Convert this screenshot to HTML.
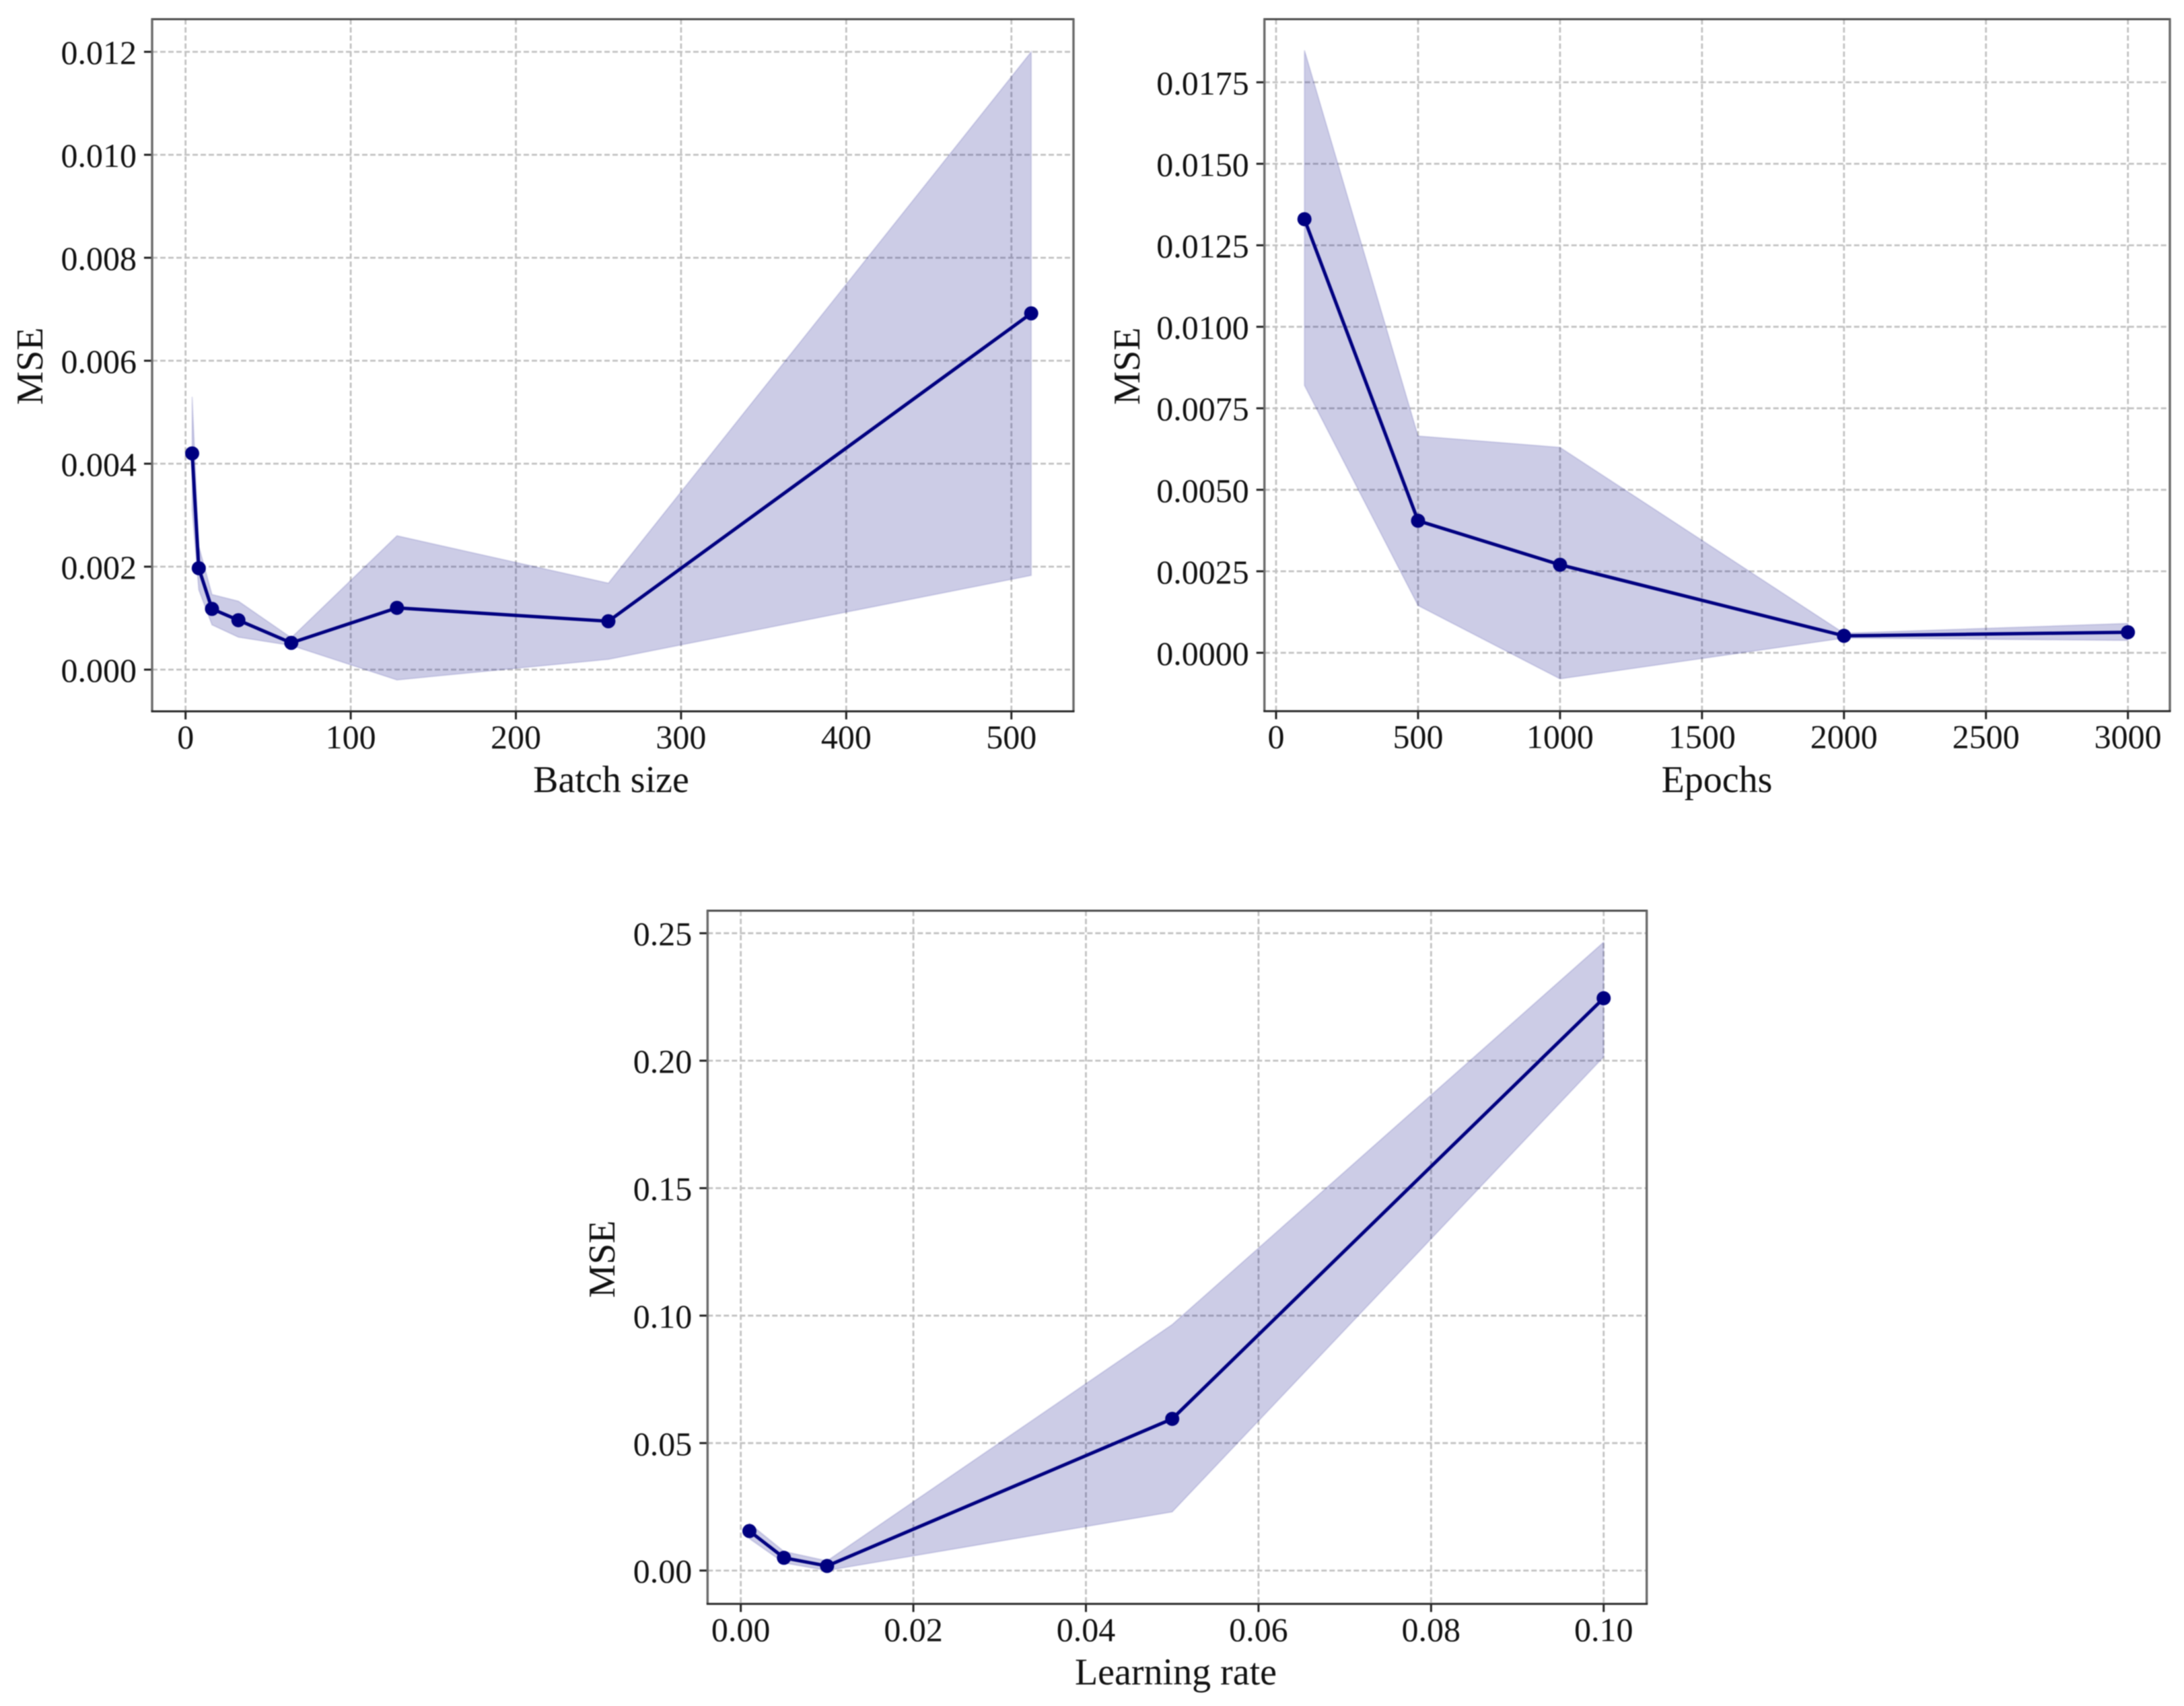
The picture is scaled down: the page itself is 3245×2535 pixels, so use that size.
<!DOCTYPE html>
<html lang="en">
<head>
<meta charset="utf-8">
<title>MSE versus batch size, epochs and learning rate</title>
<style>
  html, body { margin: 0; padding: 0; background: #fff; width: 3245px; height: 2535px; overflow: hidden; }
  svg { display: block; filter: blur(0.8px); }
  text { font-family: "Liberation Serif", "Times New Roman", serif; fill: #111; }
</style>
</head>
<body>
<svg id="figure" xmlns="http://www.w3.org/2000/svg" width="3245" height="2535" viewBox="0 0 3245 2535">
  <rect x="0" y="0" width="3245" height="2535" fill="#ffffff"/>
</svg>
<script>
// Batch size panel data
const batchSizes = [4, 8, 16, 32, 64, 128, 256, 512];
const batchMean  = [0.0042, 0.00197, 0.00118, 0.00096, 0.00052, 0.0012, 0.00094, 0.00692];
const batchUpper = [0.0053, 0.0024, 0.00146, 0.00133, 0.00062, 0.0026, 0.00168, 0.0120];
const batchLower = [0.0031, 0.00155, 0.00087, 0.00063, 0.00047, -0.0002, 0.0002, 0.00183];
const batchXTicks = ["0", "100", "200", "300", "400", "500"];
const batchYTicks = ["0.000", "0.002", "0.004", "0.006", "0.008", "0.010", "0.012"];

// Epochs panel data
const epochCounts = [100, 500, 1000, 2000, 3000];
const epochMean  = [0.0133, 0.00405, 0.0027, 0.00052, 0.00063];
const epochUpper = [0.01848, 0.00665, 0.0063, 0.0006, 0.0009];
const epochLower = [0.0082, 0.00145, -0.0008, 0.00045, 0.00038];
const epochXTicks = ["0", "500", "1000", "1500", "2000", "2500", "3000"];
const epochYTicks = ["0.0000", "0.0025", "0.0050", "0.0075", "0.0100", "0.0125", "0.0150", "0.0175"];

// Learning rate panel data
const learningRates = [0.001, 0.005, 0.01, 0.05, 0.1];
const rateMean  = [0.0155, 0.005, 0.0018, 0.0595, 0.2245];
const rateUpper = [0.0185, 0.0075, 0.0038, 0.0965, 0.2465];
const rateLower = [0.0125, 0.003, 0.0, 0.023, 0.2015];
const rateXTicks = ["0.00", "0.02", "0.04", "0.06", "0.08", "0.10"];
const rateYTicks = ["0.00", "0.05", "0.10", "0.15", "0.20", "0.25"];

const SVG_NS = "http://www.w3.org/2000/svg";
const figure = document.getElementById("figure");

function create(parent, tag, attrs) {
  const node = document.createElementNS(SVG_NS, tag);
  for (const key in attrs) node.setAttribute(key, attrs[key]);
  parent.appendChild(node);
  return node;
}

function drawPanel(p) {
  const xScale = v => p.left + (v - p.xMin) / (p.xMax - p.xMin) * (p.right - p.left);
  const yScale = v => p.bottom - (v - p.yMin) / (p.yMax - p.yMin) * (p.bottom - p.top);

  const panel = create(figure, "g", {});
  
  

  // grid and ticks
  p.xTicks.forEach(label => {
    const x = xScale(parseFloat(label));
    const grid = create(panel, "line", { x1: x, x2: x, y1: p.top, y2: p.bottom, stroke: "#c2c2c2", "stroke-width": 2.8, "stroke-dasharray": "8 4" });
    
    
    const tick = create(panel, "line", { x1: x, x2: x, y1: p.bottom, y2: p.bottom + 12, stroke: "#222", "stroke-width": 3 });
    
    
    const text = create(panel, "text", { x: x, y: p.bottom + 55, "text-anchor": "middle", "font-size": p.tickFont });
    
    
    text.textContent = label;
  });
  p.yTicks.forEach(label => {
    const y = yScale(parseFloat(label));
    const grid = create(panel, "line", { x1: p.left, x2: p.right, y1: y, y2: y, stroke: "#c2c2c2", "stroke-width": 2.8, "stroke-dasharray": "8 4" });
    
    
    const tick = create(panel, "line", { x1: p.left - 12, x2: p.left, y1: y, y2: y, stroke: "#222", "stroke-width": 3 });
    
    
    const text = create(panel, "text", { x: p.left - 23, y: y + 18, "text-anchor": "end", "font-size": p.tickFont });
    
    
    text.textContent = label;
  });

  // uncertainty band
  const upperPts = p.xs.map((x, i) => xScale(x) + "," + yScale(p.upper[i]));
  const lowerPts = p.xs.map((x, i) => xScale(x) + "," + yScale(p.lower[i])).reverse();
  const band = create(panel, "polygon", { points: upperPts.concat(lowerPts).join(" "), fill: "#000080", "fill-opacity": 0.2, stroke: "#000080", "stroke-opacity": 0.12, "stroke-width": 2 });
  
  

  // mean line
  const line = create(panel, "polyline", { points: p.xs.map((x, i) => xScale(x) + "," + yScale(p.mean[i])).join(" "), fill: "none", stroke: "#000080", "stroke-width": 5 });
  
  

  // markers
  p.xs.forEach((x, i) => {
    const dot = create(panel, "circle", { cx: xScale(x), cy: yScale(p.mean[i]), r: 10.5, fill: "#000080" });
    
    
  });

  // spines
  const topSpine = create(panel, "line", { x1: p.left - 1.5, x2: p.right + 1.5, y1: p.top, y2: p.top, stroke: "#4a4a4a", "stroke-width": 3 });
  
  
  const leftSpine = create(panel, "line", { x1: p.left, x2: p.left, y1: p.top, y2: p.bottom, stroke: "#6a6a6a", "stroke-width": 3.4 });
  
  
  const rightSpine = create(panel, "line", { x1: p.right, x2: p.right, y1: p.top, y2: p.bottom, stroke: "#6a6a6a", "stroke-width": 3.4 });
  
  
  const bottomSpine = create(panel, "line", { x1: p.left - 1.5, x2: p.right + 1.5, y1: p.bottom, y2: p.bottom, stroke: "#2a2a2a", "stroke-width": 3 });
  
  

  // axis titles
  const xTitle = create(panel, "text", { x: p.xTitleX, y: p.xTitleY, "text-anchor": "middle", "font-size": p.titleFont });
  
  
  xTitle.textContent = p.xTitle;
  const yTitle = create(panel, "text", { x: 0, y: 0, "text-anchor": "middle", "font-size": p.titleFont, transform: "translate(" + p.yTitleX + " " + p.yTitleY + ") rotate(-90)" });
  
  
  yTitle.textContent = "MSE";
}

drawPanel({
  name: "batch-size-chart",
  left: 226, right: 1595, top: 28.5, bottom: 1057,
  xMin: -20.25, xMax: 537.6, yMin: -0.00081, yMax: 0.012634,
  xs: batchSizes, mean: batchMean, upper: batchUpper, lower: batchLower,
  xTicks: batchXTicks, yTicks: batchYTicks,
  tickFont: 50, titleFont: 56,
  xTitle: "Batch size", xTitleX: 908, xTitleY: 1177, yTitleX: 63, yTitleY: 544
});

drawPanel({
  name: "epochs-chart",
  left: 1878.7, right: 3224, top: 28.5, bottom: 1056.7,
  xMin: -41, xMax: 3147.7, yMin: -0.00179, yMax: 0.019436,
  xs: epochCounts, mean: epochMean, upper: epochUpper, lower: epochLower,
  xTicks: epochXTicks, yTicks: epochYTicks,
  tickFont: 50, titleFont: 56,
  xTitle: "Epochs", xTitleX: 2551, xTitleY: 1177, yTitleX: 1693, yTitleY: 544
});

drawPanel({
  name: "learning-rate-chart",
  left: 1051.3, right: 2446.7, top: 1353.3, bottom: 2383.3,
  xMin: -0.00385, xMax: 0.10499, yMin: -0.01309, yMax: 0.25882,
  xs: learningRates, mean: rateMean, upper: rateUpper, lower: rateLower,
  xTicks: rateXTicks, yTicks: rateYTicks,
  tickFont: 50, titleFont: 56,
  xTitle: "Learning rate", xTitleX: 1747, xTitleY: 2503, yTitleX: 913, yTitleY: 1871
});
</script>
</body>
</html>
